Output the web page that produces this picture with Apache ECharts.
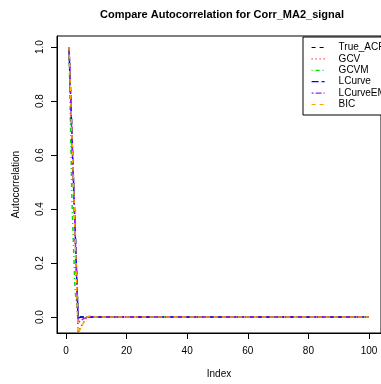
<!DOCTYPE html>
<html>
<head>
<meta charset="utf-8">
<script src="https://cdn.jsdelivr.net/npm/echarts@6/dist/echarts.min.js"></script>
<style>html,body{margin:0;padding:0;background:#fff;}#c{width:381px;height:384px;}</style>
</head>
<body>
<div id="c"></div>
<script>
var titleText = 'Compare Autocorrelation for Corr_MA2_signal';
var seriesNames = ['True_ACF', 'GCV', 'GCVM', 'LCurve', 'LCurveEM', 'BIC'];
var xTicks = [0, 20, 40, 60, 80, 100];
var yTicks = [0.0, 0.2, 0.4, 0.6, 0.8, 1.0];

var trueACF = [
  1, 0.667, 0.333, 0, 0, 0, 0, 0, 0, 0,
  0, 0, 0, 0, 0, 0, 0, 0, 0, 0,
  0, 0, 0, 0, 0, 0, 0, 0, 0, 0,
  0, 0, 0, 0, 0, 0, 0, 0, 0, 0,
  0, 0, 0, 0, 0, 0, 0, 0, 0, 0,
  0, 0, 0, 0, 0, 0, 0, 0, 0, 0,
  0, 0, 0, 0, 0, 0, 0, 0, 0, 0,
  0, 0, 0, 0, 0, 0, 0, 0, 0, 0,
  0, 0, 0, 0, 0, 0, 0, 0, 0, 0,
  0, 0, 0, 0, 0, 0, 0, 0, 0, 0
];
var gcv = [
  1, 0.66, 0.32, -0.055, -0.035, -0.015, 0, 0.003, 0, 0,
  0, 0, 0, 0, 0, 0, 0, 0, 0, 0,
  0, 0, 0, 0, 0, 0, 0, 0, 0, 0,
  0, 0, 0, 0, 0, 0, 0, 0, 0, 0,
  0, 0, 0, 0, 0, 0, 0, 0, 0, 0,
  0, 0, 0, 0, 0, 0, 0, 0, 0, 0,
  0, 0, 0, 0, 0, 0, 0, 0, 0, 0,
  0, 0, 0, 0, 0, 0, 0, 0, 0, 0,
  0, 0, 0, 0, 0, 0, 0, 0, 0, 0,
  0, 0, 0, 0, 0, 0, 0, 0, 0, 0
];
var gcvm = [
  1, 0.42, 0.10, 0, -0.004, 0, 0, 0, 0, 0,
  0, 0, 0, 0, 0, 0, 0, 0, 0, 0,
  0, 0, 0, 0, 0, 0, 0, 0, 0, 0,
  0, 0, 0, 0, 0, 0, 0, 0, 0, 0,
  0, 0, 0, 0, 0, 0, 0, 0, 0, 0,
  0, 0, 0, 0, 0, 0, 0, 0, 0, 0,
  0, 0, 0, 0, 0, 0, 0, 0, 0, 0,
  0, 0, 0, 0, 0, 0, 0, 0, 0, 0,
  0, 0, 0, 0, 0, 0, 0, 0, 0, 0,
  0, 0, 0, 0, 0, 0, 0, 0, 0, 0
];
var lcurve = [
  1, 0.665, 0.33, -0.004, 0, 0, 0, 0, 0, 0,
  0, 0, 0, 0, 0, 0, 0, 0, 0, 0,
  0, 0, 0, 0, 0, 0, 0, 0, 0, 0,
  0, 0, 0, 0, 0, 0, 0, 0, 0, 0,
  0, 0, 0, 0, 0, 0, 0, 0, 0, 0,
  0, 0, 0, 0, 0, 0, 0, 0, 0, 0,
  0, 0, 0, 0, 0, 0, 0, 0, 0, 0,
  0, 0, 0, 0, 0, 0, 0, 0, 0, 0,
  0, 0, 0, 0, 0, 0, 0, 0, 0, 0,
  0, 0, 0, 0, 0, 0, 0, 0, 0, 0
];
var lcurveEM = [
  1, 0.66, 0.32, -0.02, -0.012, -0.005, 0, 0.002, 0, 0,
  0, 0, 0, 0, 0, 0, 0, 0, 0, 0,
  0, 0, 0, 0, 0, 0, 0, 0, 0, 0,
  0, 0, 0, 0, 0, 0, 0, 0, 0, 0,
  0, 0, 0, 0, 0, 0, 0, 0, 0, 0,
  0, 0, 0, 0, 0, 0, 0, 0, 0, 0,
  0, 0, 0, 0, 0, 0, 0, 0, 0, 0,
  0, 0, 0, 0, 0, 0, 0, 0, 0, 0,
  0, 0, 0, 0, 0, 0, 0, 0, 0, 0,
  0, 0, 0, 0, 0, 0, 0, 0, 0, 0
];
var bic = [
  1, 0.66, 0.32, -0.06, -0.038, -0.016, 0, 0.003, 0, 0,
  0, 0, 0, 0, 0, 0, 0, 0, 0, 0,
  0, 0, 0, 0, 0, 0, 0, 0, 0, 0,
  0, 0, 0, 0, 0, 0, 0, 0, 0, 0,
  0, 0, 0, 0, 0, 0, 0, 0, 0, 0,
  0, 0, 0, 0, 0, 0, 0, 0, 0, 0,
  0, 0, 0, 0, 0, 0, 0, 0, 0, 0,
  0, 0, 0, 0, 0, 0, 0, 0, 0, 0,
  0, 0, 0, 0, 0, 0, 0, 0, 0, 0,
  0, 0, 0, 0, 0, 0, 0, 0, 0, 0
];

var allValues = [trueACF, gcv, gcvm, lcurve, lcurveEM, bic];
var colors = ['#000000', '#FF0000', '#00E000', '#0000FF', '#A020F0', '#FFA500'];
var dashes = [[4, 4], [1, 3], [1, 3, 4, 3], [7, 3], [2, 2, 6, 2], [4, 4]];

var FONT = 'Liberation Sans, Arial, Helvetica, sans-serif';

var series = seriesNames.map(function (name, k) {
  return {
    name: name,
    type: 'line',
    symbol: 'none',
    silent: true,
    animation: false,
    data: allValues[k].map(function (v, i) { return [i + 1, v]; }),
    lineStyle: { color: colors[k], width: 1.5, type: dashes[k] },
    itemStyle: { color: colors[k] }
  };
});

var chart = echarts.init(document.getElementById('c'), null, { renderer: 'canvas' });
chart.setOption({
  backgroundColor: '#ffffff',
  animation: false,
  title: {
    text: titleText,
    left: 217, top: 4,
    textAlign: 'center',
    textStyle: { fontFamily: FONT, fontSize: 11, fontWeight: 'bold', color: '#000' }
  },
  legend: {
    orient: 'vertical',
    left: 303, top: 37,
    padding: [5, 30, 5, 8],
    itemWidth: 13, itemHeight: 11, itemGap: 0.4,
    borderColor: '#000', borderWidth: 1,
    borderRadius: 0,
    backgroundColor: '#fff',
    itemStyle: { color: 'transparent', borderWidth: 0, opacity: 0 },
    lineStyle: { width: 1.2 },
    textStyle: { fontFamily: FONT, fontSize: 10, color: '#000', lineHeight: 11, padding: [0, 0, 0, 9] },
    data: seriesNames
  },
  grid: {
    left: 57, top: 36, right: -6, bottom: 51,
    show: true, borderColor: '#000', borderWidth: 1, backgroundColor: 'transparent',
    containLabel: false
  },
  xAxis: {
    type: 'value',
    min: -2.96, max: 103.96,
    name: 'Index',
    nameLocation: 'middle', nameGap: 36,
    nameTextStyle: { fontFamily: FONT, fontSize: 10, color: '#000' },
    axisLine: { show: true, onZero: false, lineStyle: { color: '#000', width: 1 } },
    axisTick: { show: true, length: 6, customValues: xTicks, lineStyle: { color: '#000' } },
    axisLabel: { customValues: xTicks, margin: 13, fontFamily: FONT, fontSize: 10, color: '#000' },
    splitLine: { show: false }
  },
  yAxis: {
    type: 'value',
    min: -0.059, max: 1.041,
    name: 'Autocorrelation',
    nameLocation: 'middle', nameGap: 36,
    nameTextStyle: { fontFamily: FONT, fontSize: 10, color: '#000' },
    axisLine: { show: true, onZero: false, lineStyle: { color: '#000', width: 1 } },
    axisTick: { show: true, length: 6, customValues: yTicks, lineStyle: { color: '#000' } },
    axisLabel: {
      customValues: yTicks, margin: 12, rotate: 90,
      fontFamily: FONT, fontSize: 10, color: '#000',
      formatter: function (v) { return v.toFixed(1); }
    },
    splitLine: { show: false }
  },
  series: series
});
</script>
</body>
</html>
